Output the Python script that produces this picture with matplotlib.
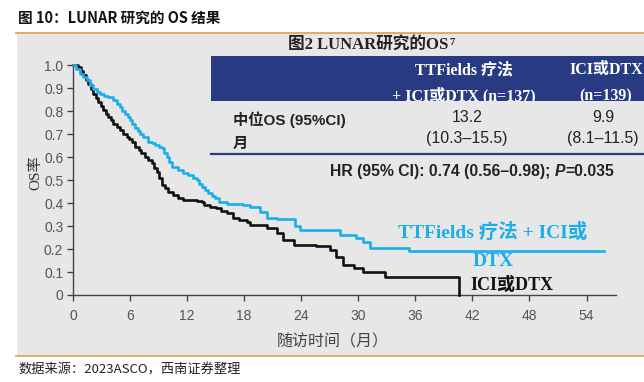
import numpy as np
import matplotlib
matplotlib.use("Agg")
import matplotlib.pyplot as plt
from matplotlib.patches import Rectangle
from matplotlib.lines import Line2D

# KM curve points (months, OS rate)
months_ttf = [0, 0.3, 0.74, 1.1, 1.44, 1.8, 2.13, 2.5, 2.84, 3.3, 3.71, 4.24, 4.6, 4.94, 5.2,
              5.47, 5.75, 6.0, 6.25, 6.52, 6.8, 7.05, 7.4, 7.92, 8.3, 8.62, 9.0, 9.33, 9.6,
              9.85, 10.1, 10.38, 11.07, 11.6, 12.12, 12.6, 13.0, 13.25, 13.53, 13.9, 14.23,
              14.6, 14.93, 15.3, 16.2, 17.9, 18.6, 19.7, 20.4, 21.4, 23.3, 23.9, 27.4, 28.1,
              29.8, 30.5, 31.2, 35.3, 55.8]
os_ttf = [1.0, 0.985, 0.963, 0.95, 0.935, 0.915, 0.898, 0.885, 0.876, 0.868, 0.862, 0.848,
          0.832, 0.818, 0.803, 0.789, 0.775, 0.761, 0.746, 0.729, 0.715, 0.702, 0.69, 0.667,
          0.66, 0.653, 0.646, 0.639, 0.62, 0.602, 0.58, 0.559, 0.544, 0.533, 0.522, 0.51,
          0.501, 0.485, 0.471, 0.457, 0.443, 0.432, 0.421, 0.406, 0.398, 0.392, 0.384, 0.363,
          0.334, 0.329, 0.30, 0.283, 0.283, 0.261, 0.247, 0.232, 0.205, 0.19, 0.19]

months_ctl = [0, 0.5, 0.8, 1.08, 1.35, 1.61, 1.9, 2.13, 2.4, 2.66, 2.9, 3.19, 3.45, 3.71, 4.0,
              4.24, 4.6, 4.94, 5.3, 5.65, 5.9, 6.17, 6.52, 6.9, 7.2, 7.57, 7.9, 8.27, 8.55,
              8.8, 9.05, 9.33, 9.65, 10.02, 10.5, 11.07, 11.6, 13.0, 13.53, 13.8, 14.4, 15.0,
              15.6, 16.2, 16.85, 17.5, 18.25, 18.6, 20.4, 21.4, 22.1, 23.2, 25.6, 27.0, 27.7,
              28.4, 29.5, 30.5, 32.8, 40.6]
os_ctl = [1.0, 0.993, 0.975, 0.956, 0.938, 0.92, 0.898, 0.876, 0.858, 0.84, 0.822, 0.804,
          0.79, 0.775, 0.76, 0.746, 0.731, 0.717, 0.702, 0.688, 0.677, 0.666, 0.646, 0.63,
          0.617, 0.602, 0.588, 0.573, 0.555, 0.537, 0.51, 0.479, 0.465, 0.45, 0.435, 0.421,
          0.414, 0.41, 0.406, 0.392, 0.384, 0.377, 0.366, 0.355, 0.334, 0.327, 0.319, 0.305,
          0.29, 0.269, 0.239, 0.218, 0.213, 0.196, 0.167, 0.131, 0.116, 0.101, 0.077, 0.0]

x_ticks = [0, 6, 12, 18, 24, 30, 36, 42, 48, 54]
y_ticks = [0, 0.1, 0.2, 0.3, 0.4, 0.5, 0.6, 0.7, 0.8, 0.9, 1.0]
y_ticklabels = ["0", "0.1", "0.2", "0.3", "0.4", "0.5", "0.6", "0.7", "0.8", "0.9", "1.0"]

# table values
col_heads = [("TTFields 疗法", "+ ICI或DTX (n=137)"), ("ICI或DTX", "(n=139)")]
median_os = ["13.2", "9.9"]
median_ci = ["(10.3–15.5)", "(8.1–11.5)"]

W, H = 644, 382
SANS = ["Liberation Sans", "Noto Sans CJK SC"]
SERIF = ["Liberation Serif", "Noto Sans CJK SC"]
CJK = ["Noto Sans CJK SC", "Liberation Sans"]
BLUE = "#1aaeea"
NAVY = "#283b82"


def P(x, y):
    # pixel coords (top-left origin) -> figure fraction
    return x / W, 1 - y / H


fig = plt.figure(figsize=(W / 100, H / 100), dpi=100)
fig.patch.set_facecolor("white")

# gray panel and orange rules
fig.patches.append(Rectangle(P(17, 355), (W - 17) / W, 322 / H, transform=fig.transFigure,
                             facecolor="#e7e7e7", edgecolor="none", zorder=-5))
for yy in (32.5, 355.5):
    fig.lines.append(Line2D([16 / W, 1], [1 - yy / H] * 2, transform=fig.transFigure,
                            color="#e0a462", lw=1.3, zorder=-4))

fig.text(*P(18, 18), "图 10：LUNAR 研究的 OS 结果", family=CJK, fontsize=10.5,
         fontweight="bold", va="center", ha="left", color="#111")
fig.text(*P(18, 370), "数据来源：2023ASCO，西南证券整理", family=CJK, fontsize=9.5,
         style="italic", va="center", ha="left", color="#222")

# table part
t_title = fig.text(*P(288, 45), "图2 LUNAR研究的OS", family=SERIF, fontsize=12,
                   fontweight="bold", va="center", ha="left", color="#222")
band = Rectangle(P(211, 101), (W - 211) / W, 45 / H, transform=fig.transFigure,
                 facecolor=NAVY, edgecolor="none", zorder=-3)
fig.patches.append(band)
for cx, (l1, l2) in zip([464, 606], col_heads):
    fig.text(*P(cx, 70), l1, family=SERIF, fontsize=11.5, fontweight="bold",
             color="white", ha="center", va="center", zorder=2)
    t2 = fig.text(*P(cx, 96), l2, family=SERIF, fontsize=11.5, fontweight="bold",
                  color="white", ha="center", va="center", zorder=2)
    t2.set_clip_path(band)
fig.text(*P(233, 120), "中位OS (95%CI)", family=SANS, fontsize=11, fontweight="bold",
         color="#222", ha="left", va="center")
fig.text(*P(233, 143), "月", family=CJK, fontsize=11, fontweight="bold",
         color="#222", ha="left", va="center")
for cx, m, ci in zip([467, 603], median_os, median_ci):
    fig.text(*P(cx, 118), m, family=SANS, fontsize=11.4, color="#222", ha="center", va="center")
    fig.text(*P(cx, 138), ci, family=SANS, fontsize=11.4, color="#222", ha="center", va="center")
fig.lines.append(Line2D([211 / W, 1], [1 - 153.5 / H] * 2, transform=fig.transFigure,
                        color=NAVY, lw=1.6, zorder=-3))

# HR line with italic P
hr1 = fig.text(*P(330, 172), "HR (95% CI): 0.74 (0.56–0.98); ", family=SANS, fontsize=11.3,
               fontweight="bold", color="#222", ha="left", va="center")
hr2 = fig.text(0, 0, "P", family=SANS, fontsize=11.3, fontweight="bold", style="italic",
               color="#222")
hr3 = fig.text(0, 0, "=0.035", family=SANS, fontsize=11.3, fontweight="bold", color="#222")

# KM plot
ax = fig.add_axes([73 / W, 87 / H, (616 - 73) / W, 229.7 / H])
ax.set_facecolor("none")
ax.set_zorder(1)
ax.plot(months_ctl, os_ctl, drawstyle="steps-post", color="#111", lw=1.9, zorder=3,
        clip_on=False)
ax.plot(months_ttf, os_ttf, drawstyle="steps-post", color=BLUE, lw=1.9, zorder=4,
        clip_on=False)
ax.set_xlim(0, (616 - 73) / 9.51)
ax.set_ylim(0, 1.0)
ax.set_xticks(x_ticks)
ax.set_yticks(y_ticks)
ax.set_yticklabels(y_ticklabels)
for s in ("top", "right"):
    ax.spines[s].set_visible(False)
for s in ("left", "bottom"):
    ax.spines[s].set_color("#444")
    ax.spines[s].set_linewidth(1.0)
ax.tick_params(direction="out", length=4, width=1, color="#444", labelcolor="#555",
               labelsize=10, pad=3)
ax.tick_params(axis="x", pad=6)
for lab in ax.get_xticklabels() + ax.get_yticklabels():
    lab.set_family(SANS)

fig.text(*P(36, 173), "OS率", family=SERIF, fontsize=11, color="#333", rotation=90,
         ha="center", va="center")
fig.text(*P(333, 342), "随访时间（月）", family=CJK, fontsize=11.5, color="#444",
         ha="center", va="center")

fig.text(*P(493, 232), "TTFields 疗法 + ICI或", family=SERIF, fontsize=14,
         fontweight="bold", color=BLUE, ha="center", va="center", zorder=5)
fig.text(*P(493, 262), "DTX", family=SERIF, fontsize=14, fontweight="bold",
         color=BLUE, ha="center", va="center", zorder=5)
fig.text(*P(470, 285), "ICI或DTX", family=SERIF, fontsize=13, fontweight="bold",
         color="#111", ha="left", va="center", zorder=5)

# place the pieces that follow other texts
fig.canvas.draw()
r = fig.canvas.get_renderer()
inv = fig.transFigure.inverted()
bb = hr1.get_window_extent(r)
x0, y0 = inv.transform((bb.x1, bb.y0))
hr2.set_position((x0, y0))
hr2.set_va("bottom")
bb = hr2.get_window_extent(r)
x0, y0 = inv.transform((bb.x1, bb.y0))
hr3.set_position((x0, y0))
hr3.set_va("bottom")
bb = t_title.get_window_extent(r)
x0, y0 = inv.transform((bb.x1 + 1, bb.y1 - 10))
fig.text(x0, y0, "7", family=SERIF, fontsize=7.5, fontweight="bold", color="#222",
         ha="left", va="bottom")

fig.savefig("out.png", dpi=100, facecolor="white")
